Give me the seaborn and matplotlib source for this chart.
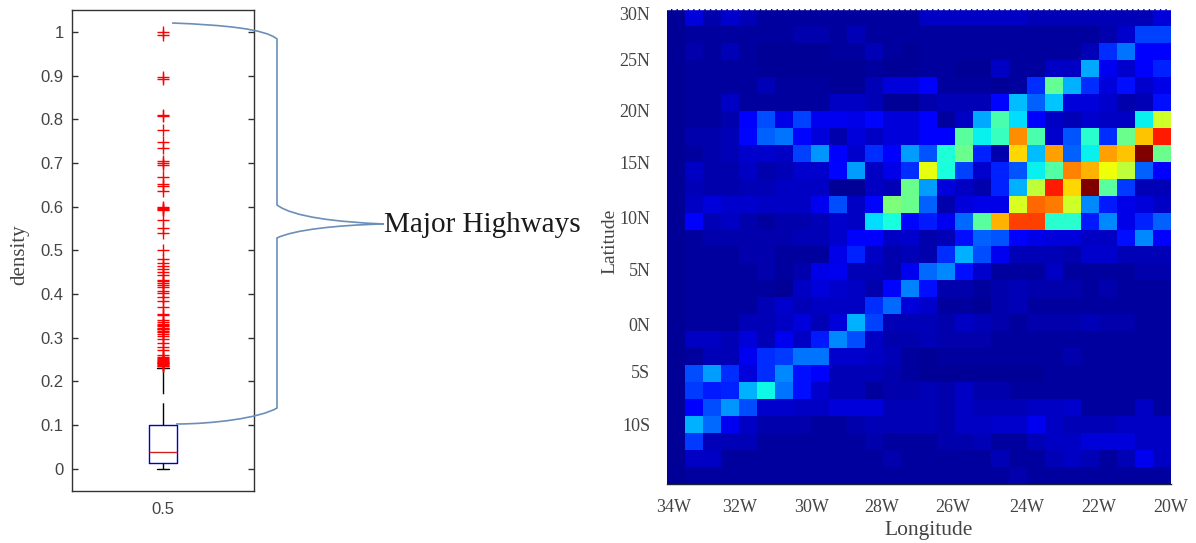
import numpy as np
import pandas as pd
import matplotlib
matplotlib.use('Agg')
import matplotlib.pyplot as plt
import seaborn as sns
from matplotlib.path import Path
from matplotlib.patches import PathPatch

W, H = 1196, 543

#### boxplot values: body levels with their counts, then the outliers ####
body_levels = [0.0, 0.012, 0.038, 0.1, 0.23]
body_counts = [5, 200, 200, 104, 1]
outliers = [1.0, 0.992, 0.896, 0.893, 0.81, 0.808, 0.775, 0.748, 0.733, 0.705, 0.70, 0.695,
            0.667, 0.652, 0.647, 0.635, 0.6, 0.597, 0.595, 0.592, 0.57, 0.55, 0.54, 0.5,
            0.479, 0.471, 0.463, 0.456, 0.45, 0.443, 0.433, 0.43, 0.425, 0.42, 0.415, 0.407,
            0.401, 0.393, 0.384, 0.369, 0.355, 0.352, 0.34, 0.336, 0.331, 0.328, 0.326, 0.323,
            0.32, 0.319, 0.316, 0.313, 0.308, 0.304, 0.296, 0.287, 0.279, 0.272, 0.26, 0.256,
            0.253, 0.25, 0.248, 0.247, 0.245, 0.244, 0.242, 0.241, 0.239, 0.237, 0.235, 0.234]
density_ticks = [0, 0.1, 0.2, 0.3, 0.4, 0.5, 0.6, 0.7, 0.8, 0.9, 1]
density_labels = ['0', '0.1', '0.2', '0.3', '0.4', '0.5', '0.6', '0.7', '0.8', '0.9', '1']

#### heatmap values, top row first, percent of the colour range ####
grid = [
    [2, 8, 4, 7, 5, 3, 3, 3, 3, 3, 3, 3, 3, 3, 6, 6, 6, 6, 6, 6, 5, 5, 5, 5, 5, 5, 5, 8],
    [2, 3, 3, 3, 3, 3, 3, 4, 4, 3, 5, 3, 3, 3, 3, 3, 3, 3, 3, 3, 3, 3, 3, 3, 4, 7, 19, 19],
    [2, 4, 3, 5, 3, 2, 2, 2, 2, 3, 3, 5, 3, 2, 3, 3, 3, 3, 3, 3, 3, 3, 3, 5, 17, 24, 11, 11],
    [2, 3, 3, 3, 3, 2, 2, 2, 2, 2, 2, 3, 2, 2, 3, 3, 2, 2, 6, 3, 3, 6, 6, 29, 10, 7, 12, 16],
    [2, 3, 3, 3, 3, 5, 3, 3, 3, 2, 2, 5, 8, 8, 11, 3, 3, 3, 2, 3, 17, 47, 30, 17, 8, 14, 7, 9],
    [2, 3, 3, 6, 3, 3, 3, 3, 3, 6, 6, 5, 2, 2, 4, 5, 5, 5, 13, 31, 22, 32, 8, 8, 7, 4, 5, 14],
    [2, 3, 3, 4, 12, 20, 9, 19, 10, 10, 9, 13, 8, 8, 11, 3, 6, 29, 44, 34, 11, 6, 5, 7, 6, 6, 36, 60],
    [2, 4, 4, 5, 13, 22, 24, 13, 8, 4, 8, 6, 8, 8, 11, 11, 46, 36, 42, 76, 44, 7, 21, 40, 17, 48, 70, 88],
    [2, 3, 4, 5, 7, 7, 6, 19, 27, 12, 7, 17, 12, 28, 21, 39, 48, 16, 4, 68, 31, 74, 22, 36, 74, 70, 100, 48],
    [2, 6, 4, 4, 6, 4, 5, 7, 7, 13, 28, 6, 9, 17, 63, 38, 19, 7, 16, 21, 36, 45, 77, 72, 64, 58, 22, 12],
    [2, 5, 4, 4, 5, 5, 6, 6, 6, 2, 2, 6, 5, 48, 28, 8, 6, 4, 16, 30, 58, 88, 68, 100, 46, 18, 5, 5],
    [2, 6, 8, 7, 7, 6, 6, 6, 10, 20, 6, 13, 50, 48, 22, 4, 8, 9, 9, 61, 80, 78, 60, 26, 15, 9, 8, 6],
    [2, 12, 5, 6, 4, 3, 4, 4, 5, 7, 6, 34, 38, 13, 15, 10, 23, 46, 72, 84, 84, 40, 40, 15, 26, 9, 16, 22],
    [2, 3, 4, 4, 4, 4, 4, 5, 5, 7, 12, 12, 6, 7, 4, 5, 14, 22, 21, 11, 9, 8, 8, 6, 6, 14, 26, 11],
    [2, 3, 3, 3, 4, 4, 3, 3, 3, 9, 16, 6, 4, 5, 4, 17, 30, 20, 10, 5, 5, 5, 4, 7, 7, 5, 5, 5],
    [2, 3, 3, 3, 3, 4, 3, 4, 9, 10, 5, 5, 4, 10, 23, 26, 14, 7, 3, 3, 3, 6, 3, 3, 3, 3, 4, 4],
    [2, 3, 3, 3, 3, 3, 2, 6, 8, 7, 6, 4, 13, 25, 14, 4, 4, 3, 4, 5, 4, 4, 4, 3, 4, 3, 3, 3],
    [2, 3, 3, 3, 3, 5, 7, 5, 6, 6, 6, 17, 23, 8, 7, 3, 3, 2, 4, 5, 3, 3, 3, 3, 3, 3, 3, 3],
    [2, 3, 3, 3, 5, 5, 6, 8, 5, 8, 30, 19, 5, 5, 5, 4, 6, 5, 4, 3, 4, 4, 4, 5, 4, 4, 3, 3],
    [2, 6, 6, 5, 8, 5, 10, 6, 15, 26, 20, 6, 4, 4, 5, 4, 4, 4, 3, 3, 3, 3, 3, 3, 3, 3, 3, 3],
    [2, 3, 5, 5, 10, 17, 18, 24, 24, 7, 7, 6, 5, 3, 2, 3, 3, 3, 3, 3, 3, 3, 4, 3, 3, 3, 3, 3],
    [2, 20, 28, 17, 8, 17, 26, 14, 11, 5, 5, 5, 4, 3, 2, 2, 2, 2, 2, 2, 2, 3, 3, 3, 3, 3, 3, 3],
    [2, 18, 15, 16, 30, 37, 24, 14, 7, 5, 5, 3, 4, 4, 5, 4, 6, 4, 4, 3, 3, 3, 3, 3, 3, 3, 3, 3],
    [2, 12, 20, 27, 20, 7, 7, 6, 6, 8, 8, 8, 5, 5, 5, 4, 6, 5, 5, 5, 6, 6, 7, 3, 3, 3, 6, 3],
    [2, 30, 23, 10, 6, 4, 4, 4, 3, 3, 4, 5, 5, 5, 5, 4, 6, 6, 7, 7, 10, 6, 5, 5, 5, 6, 6, 6],
    [2, 18, 5, 5, 5, 3, 3, 3, 3, 3, 3, 4, 3, 3, 3, 4, 4, 5, 3, 3, 5, 6, 6, 8, 8, 8, 6, 6],
    [2, 6, 6, 3, 3, 3, 3, 3, 3, 3, 3, 3, 4, 3, 3, 3, 3, 3, 5, 3, 3, 5, 6, 5, 3, 5, 10, 6],
    [2, 3, 3, 3, 3, 3, 3, 3, 3, 3, 3, 3, 3, 3, 3, 3, 3, 3, 3, 4, 3, 3, 3, 3, 3, 3, 3, 3],
]
lon_labels = ['34W', '32W', '30W', '28W', '26W', '24W', '22W', '20W']
lat_labels = ['30N', '25N', '20N', '15N', '10N', '5N', '0N', '5S', '10S']

sns.set_theme(style='white')
SERIF = 'Liberation Serif'
SANS = 'Liberation Sans'
GREY = '#444444'


def px_box(left, top, right, bottom):
    return [left / W, 1 - bottom / H, (right - left) / W, (bottom - top) / H]


def px(x, y):
    return (x / W, 1 - y / H)


fig = plt.figure(figsize=(W / 100, H / 100), dpi=100, facecolor='white')

#### boxplot on the left ####
ax_box = fig.add_axes(px_box(72, 10, 254, 490.5))
density = np.concatenate([np.repeat(body_levels, body_counts), outliers])
df_box = pd.DataFrame({'group': '0.5', 'density': density})
sns.boxplot(data=df_box, x='group', y='density', ax=ax_box, fill=False, width=0.154,
            whis=1.5, capwidths=0.07, linewidth=1,
            boxprops={'color': '#0000c8'},
            medianprops={'color': '#d02020'},
            whiskerprops={'color': 'black', 'linestyle': (0, (16, 6.5, 40, 1))},
            capprops={'color': 'black'},
            flierprops={'marker': '+', 'markersize': 9, 'markeredgecolor': 'red',
                        'markeredgewidth': 1})
ax_box.set_xlim(-0.5, 0.5)
ax_box.set_ylim(-0.05, 1.05)
ax_box.set_yticks(density_ticks, density_labels, family=SANS, fontsize=12, color=GREY)
ax_box.set_xticks([0], ['0.5'], family=SANS, fontsize=12, color=GREY)
ax_box.tick_params(axis='y', direction='in', left=True, right=True, length=4.5, width=1,
                   color='#333333', pad=6)
ax_box.tick_params(axis='x', bottom=False, pad=2)
ax_box.set_xlabel('')
ax_box.set_ylabel('')
for spine in ax_box.spines.values():
    spine.set_color('#333333')
    spine.set_linewidth(1)
fig.text(20 / W, 1 - 255 / H, 'density', rotation=90, family=SERIF, fontsize=15,
         color=GREY, ha='center', va='center')

#### brace joining the boxplot to the text ####
brace_color = '#6a8fb8'
brace_top = Path([px(172, 23), px(225, 25), px(265, 29), px(277, 39), px(277, 205),
                  px(293, 217), px(337, 222), px(384, 224)],
                 [Path.MOVETO, Path.CURVE4, Path.CURVE4, Path.CURVE4, Path.LINETO,
                  Path.CURVE4, Path.CURVE4, Path.CURVE4])
brace_low = Path([px(384, 224), px(337, 225), px(293, 230), px(277, 238), px(277, 408),
                  px(260, 418), px(213, 424), px(176, 424)],
                 [Path.MOVETO, Path.CURVE4, Path.CURVE4, Path.CURVE4, Path.LINETO,
                  Path.CURVE4, Path.CURVE4, Path.CURVE4])
for brace in [brace_top, brace_low]:
    fig.add_artist(PathPatch(brace, fill=False, edgecolor=brace_color, linewidth=1.2,
                             transform=fig.transFigure))
fig.text(384 / W, 1 - 225 / H, 'Major Highways', family=SERIF, fontsize=21,
         color='#1a1a1a', ha='left', va='center')

#### heatmap on the right ####
ax_map = fig.add_axes(px_box(667, 9, 1171, 484))
sns.heatmap(np.array(grid), ax=ax_map, cmap='jet', vmin=0, vmax=100, cbar=False, square=False)
ax_map.set_xticks([0.35, 4.05, 8.05, 11.95, 15.9, 20, 24, 28], lon_labels,
                  family=SERIF, fontsize=13, color=GREY, rotation=0)
ax_map.set_yticks([0.4, 3.1, 6.1, 9.15, 12.4, 15.45, 18.7, 21.5, 24.6], lat_labels,
                  family=SERIF, fontsize=13, color=GREY, rotation=0)
ax_map.tick_params(axis='both', length=0)
ax_map.tick_params(axis='x', pad=11)
ax_map.tick_params(axis='y', pad=12)
ax_map.set_xlabel('')
ax_map.set_ylabel('')
fig.text(929 / W, 1 - 530 / H, 'Longitude', family=SERIF, fontsize=15.5, color=GREY,
         ha='center', va='center')
fig.text(610 / W, 1 - 241 / H, 'Latitude', family=SERIF, fontsize=14, color=GREY,
         rotation=90, ha='center', va='center')
ax_map.spines['top'].set_visible(True)
ax_map.spines['top'].set_color('white')
ax_map.spines['top'].set_linestyle((0, (2, 2)))
ax_map.spines['top'].set_linewidth(1)
ax_map.spines['bottom'].set_visible(True)
ax_map.spines['bottom'].set_color('#1c2030')
ax_map.spines['bottom'].set_linewidth(1)

fig.savefig('out.png', dpi=100)
